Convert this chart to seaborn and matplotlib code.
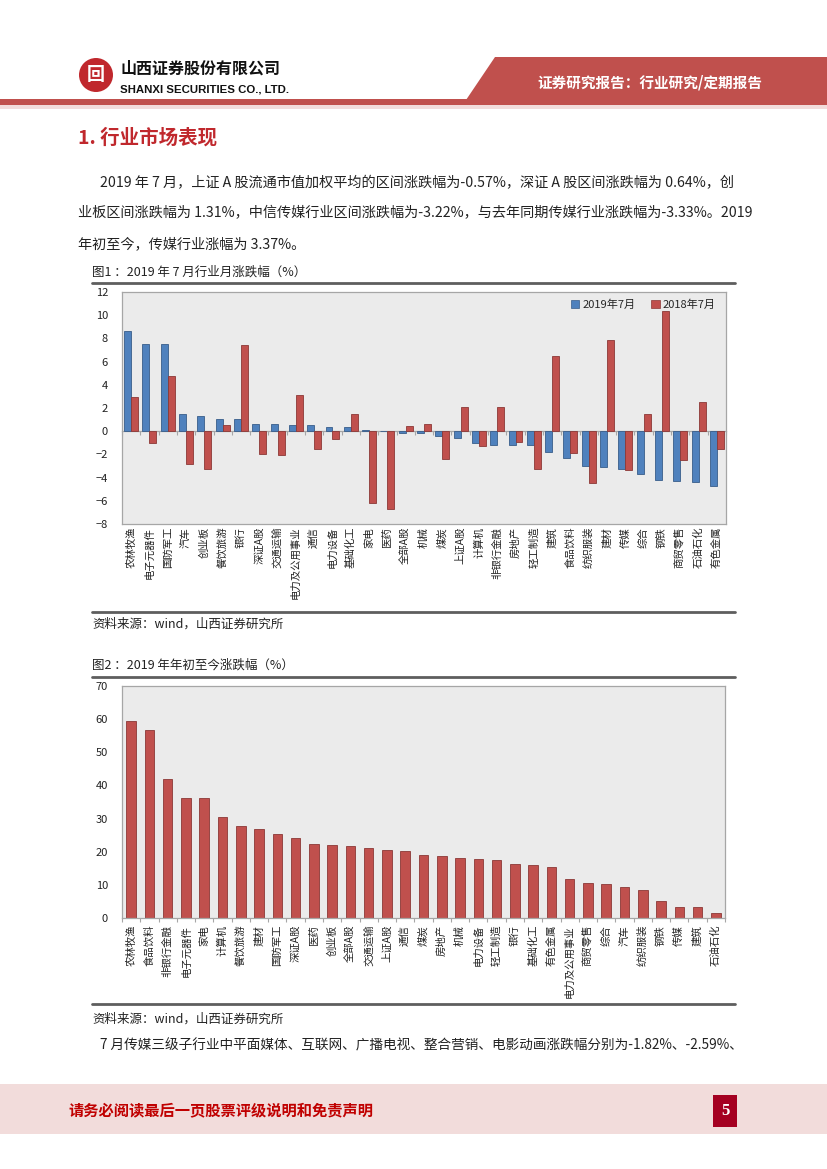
########## =========== 山西证券 传媒行业月报 第5页 =========== ##########

import matplotlib
matplotlib.use("Agg")
import matplotlib.pyplot as plt
import matplotlib.patches as mpatches
import seaborn as sns
import pandas as pd
import numpy as np

## Data
industries_jul = ["农林牧渔", "电子元器件", "国防军工", "汽车", "创业板", "餐饮旅游", "银行", "深证A股",
                  "交通运输", "电力及公用事业", "通信", "电力设备", "基础化工", "家电", "医药", "全部A股",
                  "机械", "煤炭", "上证A股", "计算机", "非银行金融", "房地产", "轻工制造", "建筑",
                  "食品饮料", "纺织服装", "建材", "传媒", "综合", "钢铁", "商贸零售", "石油石化", "有色金属"]
chg_2019_07 = [8.62, 7.53, 7.53, 1.52, 1.31, 1.06, 1.03, 0.64, 0.64, 0.57, 0.57, 0.34, 0.32, 0.14, 0.03,
               -0.12, -0.17, -0.40, -0.57, -1.03, -1.15, -1.15, -1.15, -1.78, -2.27, -2.99, -3.05, -3.22,
               -3.65, -4.20, -4.25, -4.40, -4.74]
chg_2018_07 = [2.93, -1.06, 4.77, -2.87, -3.25, 0.52, 7.39, -1.95, -2.04, 3.16, -1.55, -0.66, 1.52, -6.18,
               -6.70, 0.49, 0.60, -2.39, 2.07, -1.26, 2.07, -0.89, -3.28, 6.44, -1.87, -4.43, 7.84, -3.33,
               1.47, 10.40, -2.44, 2.56, -1.52]
series_names = ["2019年7月", "2018年7月"]

industries_ytd = ["农林牧渔", "食品饮料", "非银行金融", "电子元器件", "家电", "计算机", "餐饮旅游", "建材",
                  "国防军工", "深证A股", "医药", "创业板", "全部A股", "交通运输", "上证A股", "通信", "煤炭",
                  "房地产", "机械", "电力设备", "轻工制造", "银行", "基础化工", "有色金属", "电力及公用事业",
                  "商贸零售", "综合", "汽车", "纺织服装", "钢铁", "传媒", "建筑", "石油石化"]
chg_ytd = [59.4, 56.6, 41.8, 36.3, 36.2, 30.5, 27.9, 26.9, 25.3, 24.0, 22.2, 22.1, 21.8, 21.0, 20.4, 20.1,
           19.1, 18.6, 18.0, 17.9, 17.5, 16.4, 16.1, 15.3, 11.9, 10.7, 10.2, 9.3, 8.3, 5.0, 3.37, 3.2, 1.4]

## Colours
excel_blue = "#4F81BD"
excel_blue_edge = "#385D8A"
excel_red = "#C0504D"
excel_red_edge = "#8C3836"
plot_bg = "#EBEBEB"
border_grey = "#A6A6A6"
rule_grey = "#5E5E5E"
title_red = "#C0282D"
pink = "#F2DCDB"
text_dark = "#222222"

W, H = 827, 1169


def fx(x):
    return x / W


def fy(y):
    return 1 - y / H


def axes_rect(left, top, right, bottom):
    return [fx(left), fy(bottom), (right - left) / W, (bottom - top) / H]


## Setup
sns.set_theme(style="white")
plt.rcParams['font.family'] = ['Noto Sans CJK SC', 'DejaVu Sans']
fig = plt.figure(figsize=(W / 100, H / 100), dpi=100)
fig.set_facecolor("white")

## MARK: Header
fig.patches.append(mpatches.Rectangle((0, fy(105)), 1, 6 / H, transform=fig.transFigure,
                                      fc=excel_red, ec="none"))
fig.patches.append(mpatches.Rectangle((0, fy(109)), 1, 4 / H, transform=fig.transFigure,
                                      fc=pink, ec="none"))
trap = [(fx(466), fy(100)), (fx(495), fy(57)), (1, fy(57)), (1, fy(100))]
fig.patches.append(mpatches.Polygon(trap, closed=True, transform=fig.transFigure, fc=excel_red, ec="none"))
fig.text(fx(650), fy(82), "证券研究报告：行业研究/定期报告", color="white", fontsize=10.5,
         fontweight="bold", ha="center", va="center")

# logo
fig.patches.append(mpatches.Ellipse((fx(96), fy(75)), 34 / W, 34 / H, transform=fig.transFigure,
                                    fc=title_red, ec="none"))
fig.text(fx(96), fy(75), "回", color="white", fontsize=13, fontweight="bold", ha="center", va="center")
fig.text(fx(120), fy(69), "山西证券股份有限公司", color="#111111", fontsize=11.5, fontweight="bold",
         ha="left", va="center")
fig.text(fx(120), fy(89), "SHANXI SECURITIES CO., LTD.", color="#111111", fontsize=8.2, fontweight="bold",
         ha="left", va="center", family=["Liberation Sans", "DejaVu Sans"])

## MARK: Section text
fig.text(fx(78), fy(138), "1. 行业市场表现", color=title_red, fontsize=14, fontweight="bold",
         ha="left", va="center")
para_kws = dict(color=text_dark, fontsize=10.2, ha="left", va="center")
fig.text(fx(100), fy(183), "2019 年 7 月，上证 A 股流通市值加权平均的区间涨跌幅为-0.57%，深证 A 股区间涨跌幅为 0.64%，创",
         **para_kws)
fig.text(fx(78), fy(213), "业板区间涨跌幅为 1.31%，中信传媒行业区间涨跌幅为-3.22%，与去年同期传媒行业涨跌幅为-3.33%。2019",
         **para_kws)
fig.text(fx(78), fy(244), "年初至今，传媒行业涨幅为 3.37%。", **para_kws)

cap_kws = dict(color=text_dark, fontsize=9, ha="left", va="center")


def rule(y, lw=2.0):
    fig.add_artist(plt.Line2D([fx(92), fx(735)], [fy(y), fy(y)], transform=fig.transFigure,
                              color=rule_grey, lw=lw))


fig.text(fx(92), fy(272), "图1 ：2019 年 7 月行业月涨跌幅（%）", **cap_kws)
rule(283)
rule(612)
fig.text(fx(92), fy(624), "资料来源：wind，山西证券研究所", **cap_kws)

fig.text(fx(92), fy(665), "图2 ：2019 年年初至今涨跌幅（%）", **cap_kws)
rule(677)
rule(1004)
fig.text(fx(92), fy(1019), "资料来源：wind，山西证券研究所", **cap_kws)
fig.text(fx(100), fy(1045), "7 月传媒三级子行业中平面媒体、互联网、广播电视、整合营销、电影动画涨跌幅分别为-1.82%、-2.59%、",
         **dict(para_kws, fontsize=9.8))

## MARK: Chart 1 - monthly change
df1 = pd.DataFrame({
    "industry": industries_jul * 2,
    "value": chg_2019_07 + chg_2018_07,
    "period": [series_names[0]] * len(industries_jul) + [series_names[1]] * len(industries_jul),
})
ax1 = fig.add_axes(axes_rect(122, 292, 726, 524))
ax1.set_facecolor(plot_bg)
sns.barplot(data=df1, x="industry", y="value", hue="period", order=industries_jul,
            hue_order=series_names, palette=[excel_blue, excel_red], width=0.76,
            ax=ax1, edgecolor=None, linewidth=0.6, saturation=1)
for patch in ax1.patches:
    fc = patch.get_facecolor()
    if abs(fc[2] - 0.741) < 0.05:
        patch.set_edgecolor(excel_blue_edge)
    else:
        patch.set_edgecolor(excel_red_edge)

ax1.set_ylim(-8, 12)
ax1.set_yticks(range(-8, 13, 2))
ax1.set_xlim(-0.5, len(industries_jul) - 0.5)
ax1.set_xlabel("")
ax1.set_ylabel("")
ax1.tick_params(axis="x", length=0, pad=2, labelsize=7.5, labelrotation=90, labelcolor=text_dark)
ax1.tick_params(axis="y", length=0, pad=10, labelsize=8, labelcolor=text_dark)
for lab in ax1.get_xticklabels():
    lab.set_va("top")
for s in ax1.spines.values():
    s.set_color(border_grey)
    s.set_linewidth(0.9)

# category axis crossing at zero, Excel style
zero_axis = ax1.secondary_xaxis(8 / 20)
zero_axis.set_xticks(np.arange(-0.5, len(industries_jul), 1))
zero_axis.set_xticklabels([])
zero_axis.tick_params(length=3, color=border_grey, direction="out", width=0.8)
zero_axis.spines["bottom"].set_color(border_grey)
zero_axis.spines["bottom"].set_linewidth(0.9)

leg = ax1.legend(loc="upper right", bbox_to_anchor=(1.0, 1.01), ncol=2, frameon=False, fontsize=8,
                 handlelength=0.75, handleheight=0.75, handletextpad=0.3, columnspacing=1.4)
for h in leg.legend_handles:
    h.set_linewidth(0.5)

## MARK: Chart 2 - year to date
df2 = pd.DataFrame({"industry": industries_ytd, "value": chg_ytd})
ax2 = fig.add_axes(axes_rect(122, 686, 725, 918))
ax2.set_facecolor(plot_bg)
sns.barplot(data=df2, x="industry", y="value", order=industries_ytd, color=excel_red,
            width=0.52, ax=ax2, edgecolor=excel_red_edge, linewidth=0.6, saturation=1)
ax2.set_ylim(0, 70)
ax2.set_yticks(range(0, 71, 10))
ax2.set_xlim(-0.5, len(industries_ytd) - 0.5)
ax2.set_xlabel("")
ax2.set_ylabel("")
ax2.set_xticks(np.arange(-0.5, len(industries_ytd), 1), minor=True)
ax2.tick_params(axis="x", which="major", length=0, pad=5, labelsize=7.5, labelrotation=90,
                labelcolor=text_dark)
ax2.tick_params(axis="x", which="minor", length=3, color=border_grey, width=0.8, bottom=True)
ax2.tick_params(axis="y", length=0, pad=10, labelsize=8, labelcolor=text_dark)
for lab in ax2.get_xticklabels():
    lab.set_va("top")
for s in ax2.spines.values():
    s.set_color(border_grey)
    s.set_linewidth(0.9)

## MARK: Footer
fig.patches.append(mpatches.Rectangle((0, fy(1134)), 1, 50 / H, transform=fig.transFigure,
                                      fc=pink, ec="none"))
fig.text(fx(68), fy(1110), "请务必阅读最后一页股票评级说明和免责声明", color="#C00000", fontsize=11,
         fontweight="bold", ha="left", va="center")
fig.patches.append(mpatches.Rectangle((fx(713), fy(1127)), 24 / W, 32 / H, transform=fig.transFigure,
                                      fc="#A50021", ec="none"))
fig.text(fx(725), fy(1111), "5", color="white", fontsize=12, fontweight="bold", ha="center", va="center",
         family=["Liberation Serif", "DejaVu Serif"])

## Save
fig.savefig("out.png", dpi=100)
